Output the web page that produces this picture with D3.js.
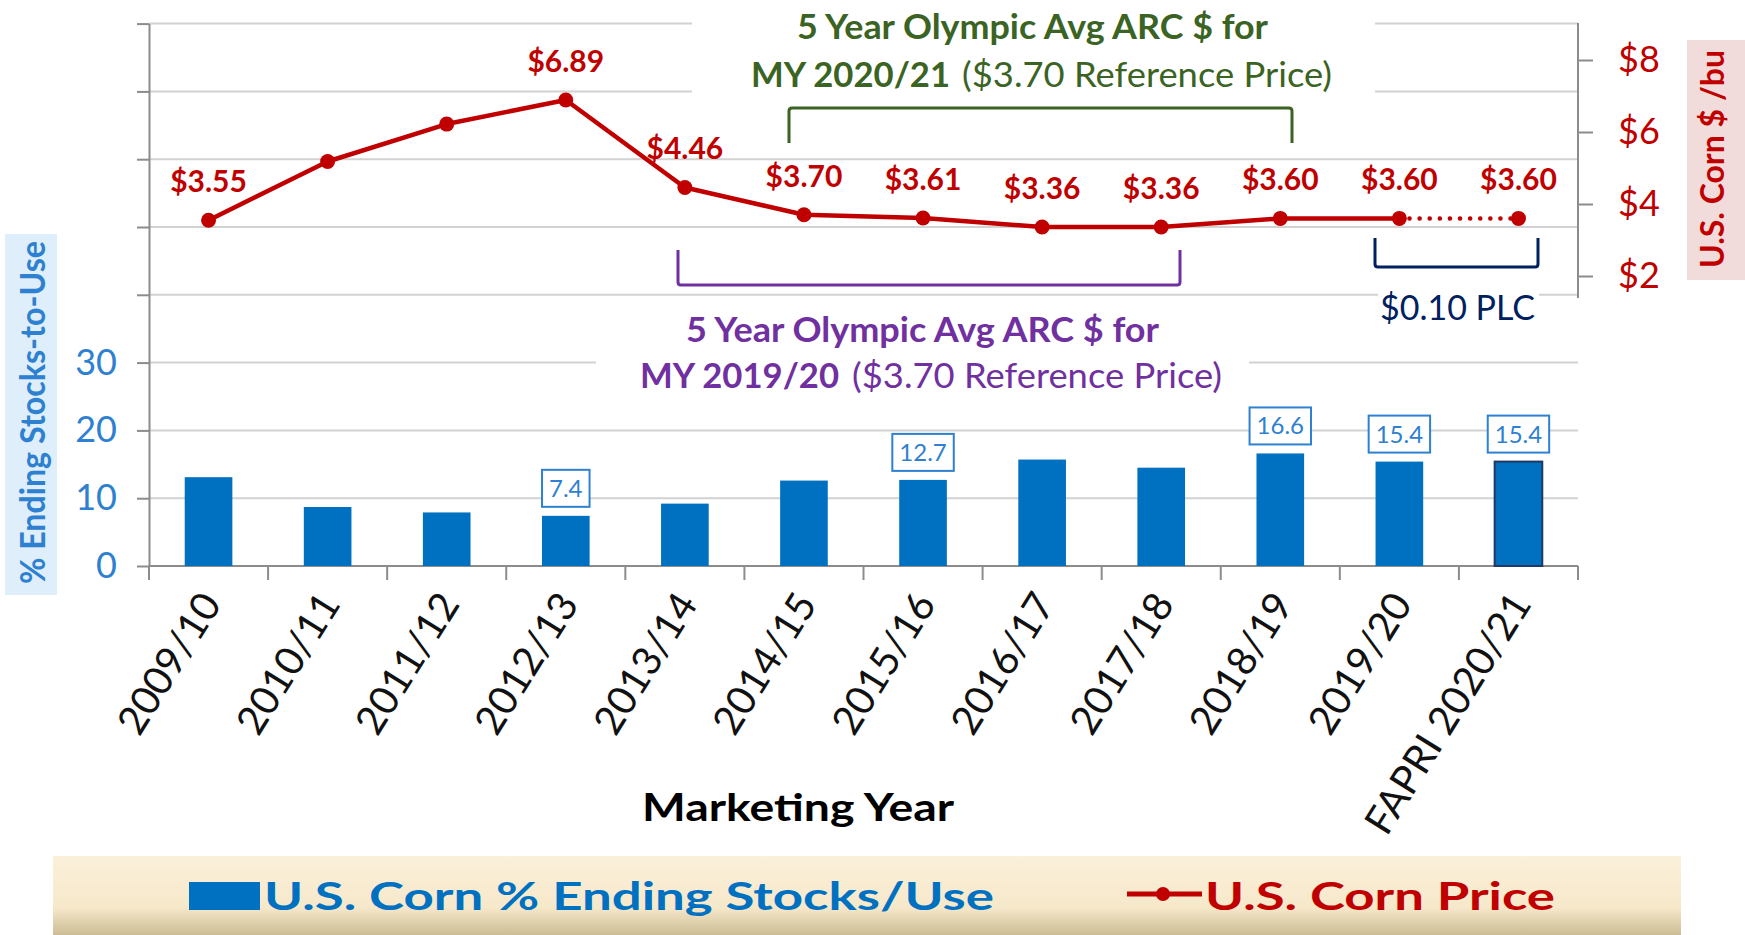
<!DOCTYPE html>
<html><head><meta charset="utf-8">
<script src="https://cdn.jsdelivr.net/npm/d3@7"></script>
<style>
body{margin:0;background:#fff}
svg{display:block}
text{font-family:Lato,"Open Sans",sans-serif}
</style>
</head><body>
<svg id="c" width="1745" height="935"></svg>
<script>
// ---- data ----
const categories = ["2009/10","2010/11","2011/12","2012/13","2013/14","2014/15","2015/16","2016/17","2017/18","2018/19","2019/20","FAPRI 2020/21"];
const stocksToUse = [13.1, 8.7, 7.9, 7.4, 9.2, 12.6, 12.7, 15.7, 14.5, 16.6, 15.4, 15.4];
const cornPrice = [3.55, 5.18, 6.22, 6.89, 4.46, 3.70, 3.61, 3.36, 3.36, 3.60, 3.60, 3.60];
const priceLabelShown = [true,false,false,true,true,true,true,true,true,true,true,true];
const stockLabelShown = [false,false,false,true,false,false,true,false,false,true,true,true];
const gridTicks = [0,10,20,30,40,50,60,70,80];
const leftTickLabels = [0,10,20,30];
const rightTicks = [2,4,6,8];

// ---- setup ----
const svg = d3.select("#c");
const L = 149, R = 1578, BASE = 566;
const RED = "#c00000", BLUE = "#0070c0", LBLUE = "#2e80d0", GRID = "#d2d2d2", AX = "#8c8c8c";

const x = d3.scaleBand().domain(categories).range([L, R]).paddingInner(0.6).paddingOuter(0.3);
const yL = d3.scaleLinear().domain([0, 80]).range([BASE, 23.6]);
const yR = d3.scaleLinear().domain([2, 8]).range([276, 60]);
const cx = c => x(c) + x.bandwidth() / 2;

const defs = svg.append("defs");
const grad = defs.append("linearGradient").attr("id","lg").attr("x1",0).attr("y1",0).attr("x2",0).attr("y2",1);
grad.append("stop").attr("offset","0%").attr("stop-color","#fbf0da");
grad.append("stop").attr("offset","65%").attr("stop-color","#f6e8ca");
grad.append("stop").attr("offset","100%").attr("stop-color","#cdbd95");

// gridlines
svg.append("g").selectAll("line").data(gridTicks).join("line")
  .attr("x1", L).attr("x2", R).attr("y1", d => yL(d)).attr("y2", d => yL(d))
  .attr("stroke", GRID).attr("stroke-width", 2);

// white covers behind annotations
svg.append("rect").attr("x",692).attr("y",0).attr("width",683).attr("height",140).attr("fill","#fff");
svg.append("rect").attr("x",596).attr("y",300).attr("width",653).attr("height",100).attr("fill","#fff");
svg.append("rect").attr("x",1378).attr("y",285).attr("width",161).attr("height",45).attr("fill","#fff");

// left axis
const la = svg.append("g").attr("transform", `translate(${L},0)`)
  .call(d3.axisLeft(yL).tickValues(gridTicks).tickSize(12).tickSizeOuter(0).tickPadding(20)
    .tickFormat(d => leftTickLabels.includes(d) ? d : ""));
la.select(".domain").attr("stroke", AX).attr("stroke-width", 2);
la.selectAll(".tick line").attr("stroke", AX).attr("stroke-width", 2);
la.selectAll(".tick text").attr("fill", LBLUE).attr("font-size", 36).attr("font-family","Lato");

// right axis
svg.append("line").attr("x1", R).attr("x2", R).attr("y1", 23).attr("y2", 298).attr("stroke", AX).attr("stroke-width", 2);
const ra = svg.append("g").attr("transform", `translate(${R},0)`)
  .call(d3.axisRight(yR).tickValues(rightTicks).tickSize(15).tickSizeOuter(0).tickPadding(25).tickFormat(d => "$" + d));
ra.select(".domain").remove();
ra.selectAll(".tick line").attr("stroke", AX).attr("stroke-width", 2);
ra.selectAll(".tick text").attr("fill", RED).attr("font-size", 36).attr("font-family","Lato");

// bottom axis line + category ticks
svg.append("line").attr("x1", L).attr("x2", R).attr("y1", BASE).attr("y2", BASE).attr("stroke", AX).attr("stroke-width", 2);
const bounds = categories.map(c => x(c) - x.step() * x.paddingInner() / 2).concat([R]);
svg.append("g").selectAll("line").data(bounds).join("line")
  .attr("x1", d => d).attr("x2", d => d).attr("y1", BASE).attr("y2", BASE + 14)
  .attr("stroke", AX).attr("stroke-width", 2);

// category labels
svg.append("g").selectAll("text").data(categories).join("text")
  .attr("transform", c => `translate(${cx(c) + 14},604) rotate(-58)`)
  .attr("text-anchor", "end").attr("font-size", 40).attr("fill", "#111")
  .text(c => c);

// bars
svg.append("g").selectAll("rect").data(stocksToUse).join("rect")
  .attr("x", (d, i) => x(categories[i])).attr("y", d => yL(d))
  .attr("width", x.bandwidth()).attr("height", d => BASE - yL(d))
  .attr("fill", BLUE)
  .attr("stroke", (d, i) => i === categories.length - 1 ? "#1f3864" : "none")
  .attr("stroke-width", 2);

// bar labels
const bl = svg.append("g");
stocksToUse.forEach((v, i) => {
  if (!stockLabelShown[i]) return;
  const g = bl.append("g");
  const t = g.append("text").attr("x", cx(categories[i])).attr("y", yL(v) - 9 - 10)
    .attr("text-anchor", "middle").attr("font-size", 24).attr("fill", LBLUE).text(v.toFixed(1));
  const w = t.node().getComputedTextLength();
  g.insert("rect", "text").attr("x", cx(categories[i]) - w / 2 - 7).attr("y", yL(v) - 9 - 37)
    .attr("width", w + 14).attr("height", 37).attr("fill", "#fff").attr("stroke", LBLUE).attr("stroke-width", 2);
});

// price line
const line = d3.line().x((d, i) => cx(categories[i])).y(d => yR(d));
svg.append("path").datum(cornPrice.slice(0, 11)).attr("d", line)
  .attr("fill", "none").attr("stroke", RED).attr("stroke-width", 4.5).attr("stroke-linejoin", "round");
const lineD = d3.line().x(d => cx(categories[d])).y(d => yR(cornPrice[d]));
svg.append("path").datum([10, 11]).attr("d", lineD)
  .attr("fill", "none").attr("stroke", RED).attr("stroke-width", 4.5)
  .attr("stroke-linecap", "round").attr("stroke-dasharray", "0.1 10");
svg.append("g").selectAll("circle").data(cornPrice).join("circle")
  .attr("cx", (d, i) => cx(categories[i])).attr("cy", d => yR(d)).attr("r", 7.5).attr("fill", RED);
const priceLabelData = cornPrice.map((v, i) => ({ v, c: categories[i], show: priceLabelShown[i] })).filter(d => d.show);
svg.append("g").selectAll("text").data(priceLabelData).join("text")
  .attr("x", d => cx(d.c)).attr("y", d => yR(d.v) - 28)
  .attr("text-anchor", "middle").attr("font-size", 30).attr("font-weight", 700).attr("fill", RED)
  .text(d => "$" + d.v.toFixed(2));

// green annotation
const GREEN = "#3b6323";
svg.append("text").attr("x", 797).attr("y", 39).attr("font-size", 34).attr("font-weight", 700).attr("fill", GREEN)
  .attr("textLength", 471).attr("lengthAdjust", "spacingAndGlyphs").text("5 Year Olympic Avg ARC $ for");
svg.append("text").attr("x", 751).attr("y", 87).attr("font-size", 34).attr("font-weight", 700).attr("fill", GREEN)
  .attr("textLength", 199).attr("lengthAdjust", "spacingAndGlyphs").text("MY 2020/21");
svg.append("text").attr("x", 962).attr("y", 87).attr("font-size", 34).attr("fill", GREEN)
  .attr("textLength", 370).attr("lengthAdjust", "spacingAndGlyphs").text("($3.70 Reference Price)");
svg.append("path").attr("d", "M789,143 V111 Q789,108 792,108 H1289 Q1292,108 1292,111 V143")
  .attr("fill", "none").attr("stroke", GREEN).attr("stroke-width", 3);

// purple annotation
const PURPLE = "#7030a0";
svg.append("path").attr("d", "M678,250 V282 Q678,285 681,285 H1177 Q1180,285 1180,282 V250")
  .attr("fill", "none").attr("stroke", PURPLE).attr("stroke-width", 3);
svg.append("text").attr("x", 686).attr("y", 342).attr("font-size", 34).attr("font-weight", 700).attr("fill", PURPLE)
  .attr("textLength", 473).attr("lengthAdjust", "spacingAndGlyphs").text("5 Year Olympic Avg ARC $ for");
svg.append("text").attr("x", 640).attr("y", 388).attr("font-size", 34).attr("font-weight", 700).attr("fill", PURPLE)
  .attr("textLength", 199).attr("lengthAdjust", "spacingAndGlyphs").text("MY 2019/20");
svg.append("text").attr("x", 852).attr("y", 388).attr("font-size", 34).attr("fill", PURPLE)
  .attr("textLength", 370).attr("lengthAdjust", "spacingAndGlyphs").text("($3.70 Reference Price)");

// PLC annotation
const NAVY = "#002060";
svg.append("path").attr("d", "M1375,238 V264 Q1375,267 1378,267 H1535 Q1538,267 1538,264 V238")
  .attr("fill", "none").attr("stroke", NAVY).attr("stroke-width", 3);
svg.append("text").attr("x", 1380).attr("y", 320).attr("font-size", 34).attr("fill", NAVY)
  .attr("textLength", 155).attr("lengthAdjust", "spacingAndGlyphs").text("$0.10 PLC");

// axis titles
svg.append("rect").attr("x", 5).attr("y", 234).attr("width", 52).attr("height", 361).attr("fill", "#deeefb");
svg.append("text").attr("transform", "translate(45,412.5) rotate(-90)").attr("text-anchor", "middle")
  .attr("font-size", 34).attr("font-weight", 700).attr("fill", LBLUE)
  .attr("textLength", 343).attr("lengthAdjust", "spacingAndGlyphs").text("% Ending Stocks-to-Use");
svg.append("rect").attr("x", 1687).attr("y", 40).attr("width", 58).attr("height", 240).attr("fill", "#f2dcdb");
svg.append("text").attr("transform", "translate(1724,159) rotate(-90)").attr("text-anchor", "middle")
  .attr("font-size", 33).attr("font-weight", 700).attr("fill", RED)
  .attr("textLength", 218).attr("lengthAdjust", "spacingAndGlyphs").text("U.S. Corn $ /bu");
svg.append("text").attr("x", 642).attr("y", 821).attr("font-size", 38).attr("font-weight", 700).attr("fill", "#000")
  .attr("textLength", 312).attr("lengthAdjust", "spacingAndGlyphs").text("Marketing Year");

// legend
svg.append("rect").attr("x", 53).attr("y", 856).attr("width", 1628).attr("height", 79).attr("fill", "url(#lg)");
svg.append("rect").attr("x", 189).attr("y", 882).attr("width", 71).attr("height", 28).attr("fill", BLUE);
svg.append("text").attr("x", 264).attr("y", 910).attr("font-size", 39).attr("font-weight", 700).attr("fill", BLUE)
  .attr("textLength", 730).attr("lengthAdjust", "spacingAndGlyphs").text("U.S. Corn % Ending Stocks/Use");
svg.append("line").attr("x1", 1127).attr("x2", 1202).attr("y1", 894).attr("y2", 894).attr("stroke", RED).attr("stroke-width", 5);
svg.append("circle").attr("cx", 1163).attr("cy", 894).attr("r", 7).attr("fill", RED);
svg.append("text").attr("x", 1205).attr("y", 910).attr("font-size", 39).attr("font-weight", 700).attr("fill", RED)
  .attr("textLength", 350).attr("lengthAdjust", "spacingAndGlyphs").text("U.S. Corn Price");
</script>
</body></html>
